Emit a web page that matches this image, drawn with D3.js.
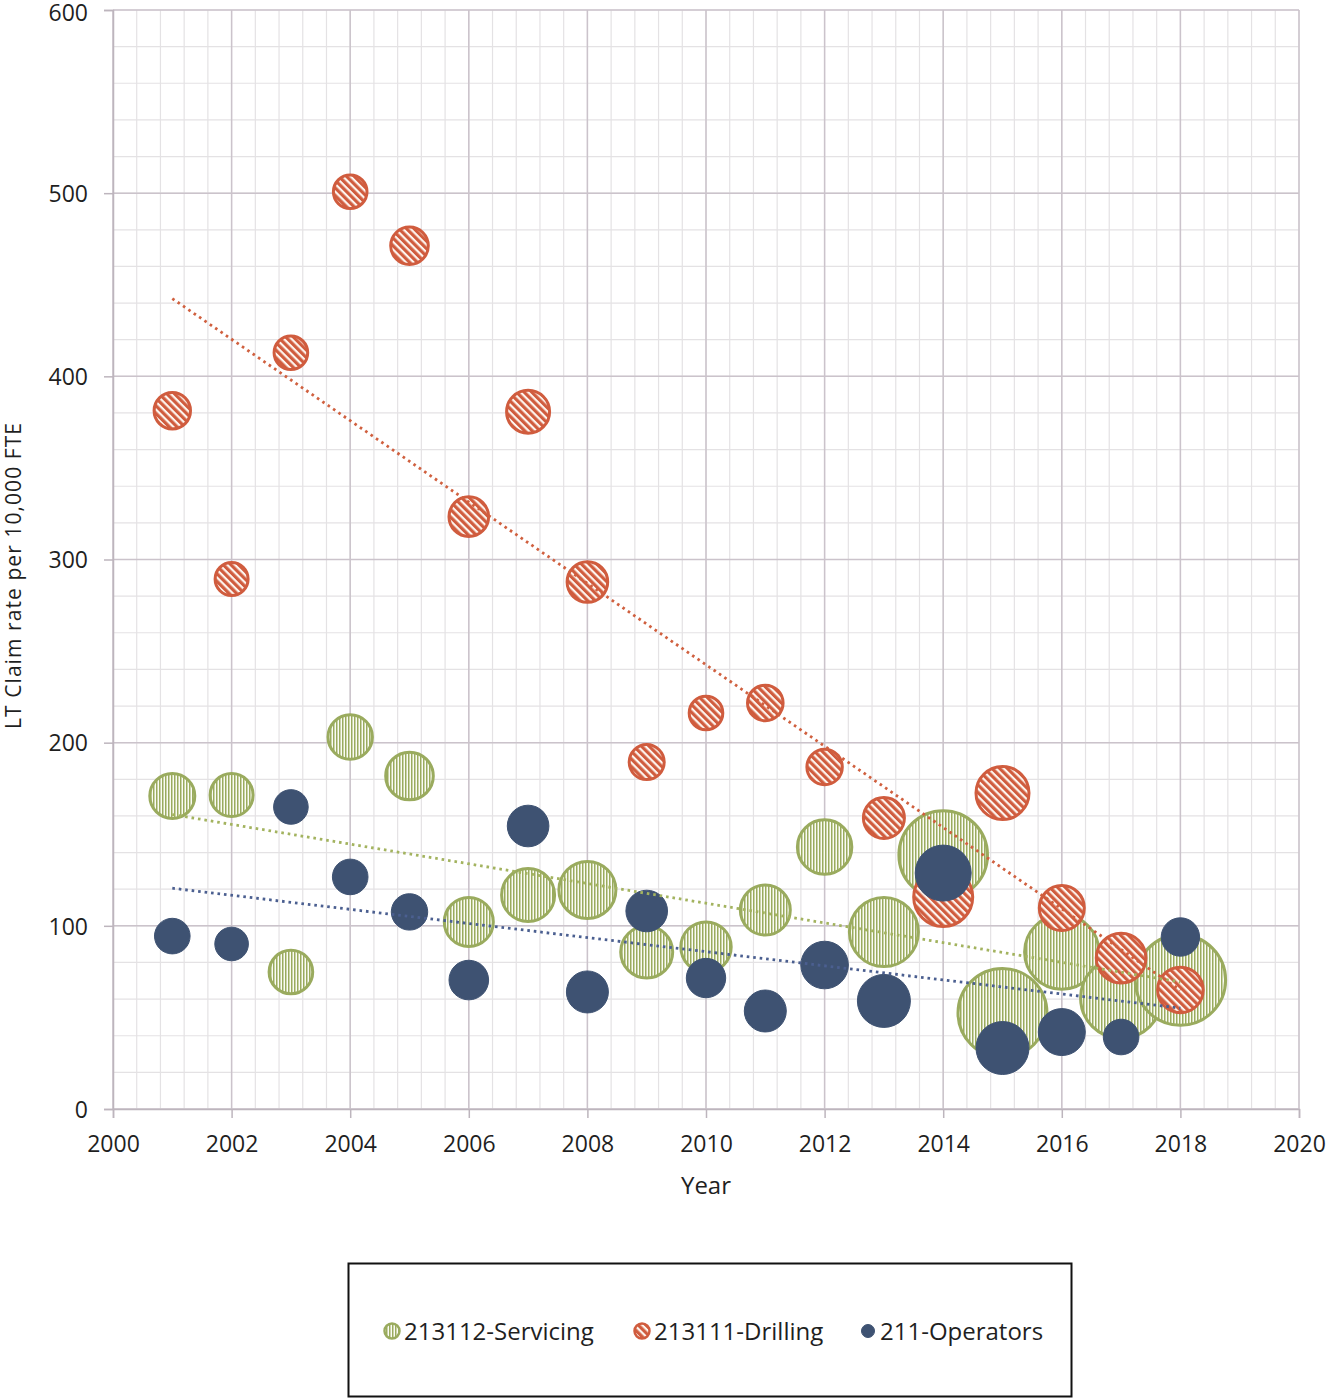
<!DOCTYPE html>
<html>
<head>
<meta charset="utf-8">
<script src="https://cdn.jsdelivr.net/npm/d3@7"></script>
<style>
  html, body { margin: 0; padding: 0; background: #fff; }
  svg { display: block; }
  text { font-family: "Open Sans", "Liberation Sans", sans-serif; fill: #1f1f1f; }
</style>
</head>
<body>
<script>
// ---------------- DATA ----------------
const years = [2001,2002,2003,2004,2005,2006,2007,2008,2009,2010,2011,2012,2013,2014,2015,2016,2017,2018];

const servicingRate = [170.9,171.4,74.8,203.1,181.8,102.1,116.8,119.6,85.7,88.4,108.6,143.0,96.6,138.7,52.4,85.7,60.6,70.4];
const servicingSize = [5.76,5.29,5.43,5.62,6.40,6.76,7.84,9.00,7.56,7.13,7.02,8.24,12.96,20.98,21.16,14.98,17.64,21.81];

const drillingRate = [381.2,289.3,412.9,500.8,471.3,323.4,380.7,287.7,189.4,216.2,221.7,186.7,158.9,115.7,172.5,109.7,82.4,65.0];
const drillingSize = [3.88,3.24,3.35,3.35,4.12,4.54,5.29,4.75,3.61,3.35,3.72,3.69,4.84,9.61,7.84,5.76,6.92,5.90];

const operatorsRate = [94.4,90.1,164.9,126.7,107.6,70.4,154.5,63.9,108.1,71.5,53.5,78.6,59.0,128.8,33.3,42.0,39.3,93.9];
const operatorsSize = [3.35,2.99,3.17,3.35,3.50,4.12,4.54,4.62,4.54,4.08,4.62,5.90,7.29,8.12,7.29,5.76,3.35,3.88];

const seriesNames = ["213112-Servicing","213111-Drilling","211-Operators"];
const xTicks = [2000,2002,2004,2006,2008,2010,2012,2014,2016,2018,2020];
const yTicks = [0,100,200,300,400,500,600];
const xTitle = "Year";
const yTitle = "LT Claim rate per 10,000 FTE";

// ---------------- LAYOUT ----------------
const W = 1328, H = 1400;
const plot = {left: 113, right: 1299, top: 10, bottom: 1109};
const colors = {
  green: "#9aab5e", greenTrend: "#a3b35f",
  red: "#d05c3e", redTrend: "#d0603f",
  navy: "#3e5272", navyTrend: "#4b5f90",
  major: "#cbc3cb", minor: "#e4e2e4"
};

const svg = d3.select("body").append("svg").attr("width", W).attr("height", H);

const x = d3.scaleLinear().domain([2000, 2020]).range([plot.left, plot.right]);
const y = d3.scaleLinear().domain([0, 600]).range([plot.bottom, plot.top]);
const maxSize = d3.max([...servicingSize, ...drillingSize, ...operatorsSize]);
const r = d3.scaleSqrt().domain([0, maxSize]).range([0, 46.7]);

// patterns
const defs = svg.append("defs");
const pg = defs.append("pattern").attr("id", "pGreen").attr("patternUnits", "userSpaceOnUse")
  .attr("width", 3).attr("height", 3);
pg.append("rect").attr("width", 3).attr("height", 3).attr("fill", "#fbfcf4");
pg.append("rect").attr("width", 1.5).attr("height", 3).attr("fill", colors.green);

const pr = defs.append("pattern").attr("id", "pRed").attr("patternUnits", "userSpaceOnUse")
  .attr("width", 5.4).attr("height", 5.4).attr("patternTransform", "rotate(-45)");
pr.append("rect").attr("width", 5.4).attr("height", 5.4).attr("fill", "#fdf5ef");
pr.append("rect").attr("width", 3.2).attr("height", 5.4).attr("fill", colors.red);

// gridlines
const grid = svg.append("g");
grid.selectAll("line.vmin").data(d3.range(0, 51).map(i => 2000 + i * 0.4)).join("line")
  .attr("x1", d => x(d)).attr("x2", d => x(d)).attr("y1", plot.top).attr("y2", plot.bottom)
  .attr("stroke", colors.minor).attr("stroke-width", 1.2);
grid.selectAll("line.hmin").data(d3.range(0, 31).map(i => i * 20)).join("line")
  .attr("x1", plot.left).attr("x2", plot.right).attr("y1", d => y(d)).attr("y2", d => y(d))
  .attr("stroke", colors.minor).attr("stroke-width", 1.2);
grid.selectAll("line.vmaj").data(xTicks).join("line")
  .attr("x1", d => x(d)).attr("x2", d => x(d)).attr("y1", plot.top).attr("y2", plot.bottom)
  .attr("stroke", colors.major).attr("stroke-width", 1.5);
grid.selectAll("line.hmaj").data(yTicks).join("line")
  .attr("x1", plot.left).attr("x2", plot.right).attr("y1", d => y(d)).attr("y2", d => y(d))
  .attr("stroke", colors.major).attr("stroke-width", 1.5);

// axes
const xAxis = svg.append("g").attr("transform", `translate(0,${plot.bottom})`)
  .call(d3.axisBottom(x).tickValues(xTicks).tickFormat(d3.format("d")).tickSize(9).tickPadding(18));
const yAxis = svg.append("g").attr("transform", `translate(${plot.left},0)`)
  .call(d3.axisLeft(y).tickValues(yTicks).tickSize(9).tickPadding(16));
[xAxis, yAxis].forEach(a => {
  a.select(".domain").attr("stroke", "#bdb5bd").attr("stroke-width", 1.5);
  a.selectAll(".tick line").attr("stroke", "#bdb5bd").attr("stroke-width", 1.5);
  a.selectAll(".tick text").style("font-family", '"Open Sans", sans-serif')
    .style("font-size", "23px").attr("fill", "#1f1f1f");
});
yAxis.selectAll(".tick text").attr("dy", d => d === 600 ? "0.46em" : "0.36em");

// titles
svg.append("text").attr("x", (plot.left + plot.right) / 2).attr("y", 1194)
  .attr("text-anchor", "middle").style("font-size", "24px").text(xTitle);
svg.append("text").attr("transform", `translate(21,576) rotate(-90)`)
  .attr("text-anchor", "middle").style("font-size", "21px")
  .attr("textLength", 306).attr("lengthAdjust", "spacing").text(yTitle);

// bubbles
const series = [
  {name: seriesNames[0], rate: servicingRate, size: servicingSize, fill: "url(#pGreen)", stroke: colors.green, sw: 3, trend: colors.greenTrend},
  {name: seriesNames[1], rate: drillingRate, size: drillingSize, fill: "url(#pRed)", stroke: colors.red, sw: 3, trend: colors.redTrend},
  {name: seriesNames[2], rate: operatorsRate, size: operatorsSize, fill: colors.navy, stroke: colors.navy, sw: 1, trend: colors.navyTrend}
];

const bubbles = svg.append("g");
series.forEach(s => {
  bubbles.append("g").selectAll("circle").data(years.map((yr, i) => ({yr, v: s.rate[i], sz: s.size[i]})))
    .join("circle")
    .attr("cx", d => x(d.yr)).attr("cy", d => y(d.v))
    .attr("r", d => Math.max(1, r(d.sz) - s.sw / 2))
    .attr("fill", s.fill).attr("stroke", s.stroke).attr("stroke-width", s.sw);
});

// linear trendlines (least squares) over data range
function linReg(xs, ys) {
  const mx = d3.mean(xs), my = d3.mean(ys);
  let num = 0, den = 0;
  xs.forEach((xv, i) => { num += (xv - mx) * (ys[i] - my); den += (xv - mx) ** 2; });
  const b = num / den;
  return xv => my + b * (xv - mx);
}
const trends = svg.append("g");
series.forEach(s => {
  const f = linReg(years, s.rate);
  const x0 = d3.min(years), x1 = d3.max(years);
  trends.append("line")
    .attr("x1", x(x0)).attr("y1", y(f(x0))).attr("x2", x(x1)).attr("y2", y(f(x1)))
    .attr("stroke", s.trend).attr("stroke-width", 2.8).attr("stroke-dasharray", "2.6,3.9");
});

// legend
const legend = svg.append("g");
legend.append("rect").attr("x", 348.5).attr("y", 1263.5).attr("width", 723).attr("height", 133)
  .attr("fill", "#fff").attr("stroke", "#111").attr("stroke-width", 2);
const legendX = [392, 642, 868];
series.forEach((s, i) => {
  const g = legend.append("g").attr("transform", `translate(${legendX[i]},1331)`);
  g.append("circle").attr("r", i === 2 ? 6.5 : 7.5).attr("fill", s.fill)
    .attr("stroke", s.stroke).attr("stroke-width", i === 2 ? 1 : 2.5);
  g.append("text").attr("x", 12).attr("dy", "0.36em").style("font-size", "24px").text(s.name);
});
</script>
</body>
</html>
